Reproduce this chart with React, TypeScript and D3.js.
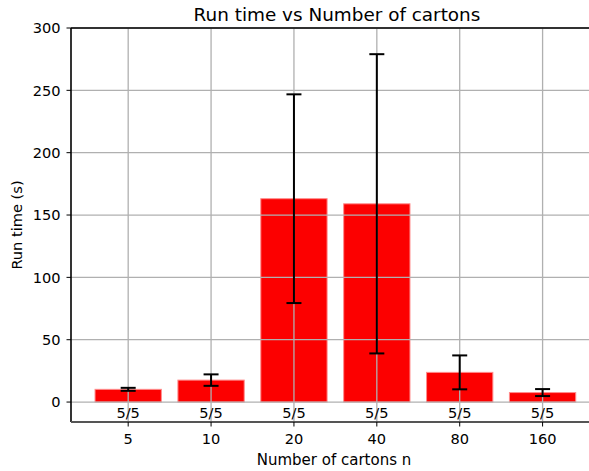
import React from "react";
import * as d3 from "d3";

const categories = ["5", "10", "20", "40", "80", "160"];
const runTimes = [10.2, 17.6, 163.1, 159.0, 23.8, 7.6];
const errors = [1.2, 4.6, 83.7, 120.0, 13.6, 2.8];
const successLabels = ["5/5", "5/5", "5/5", "5/5", "5/5", "5/5"];
const yTicks = [0, 50, 100, 150, 200, 250, 300];

const W = 589;
const H = 471;
const left = 71;
const right = 589;
const top = 28;
const bottom = 422;
const FONT = "DejaVu Sans, sans-serif";
const FS = 14.6;

export default function App() {
  const y = d3.scaleLinear().domain([-16, 300]).range([bottom, top]);
  const x = d3.scaleLinear().domain([-0.69, 5.56]).range([left, right]);
  const barW = x(0.8) - x(0);
  const grid = "#b0b0b0";

  return (
    <svg width={W} height={H} style={{ position: "absolute", left: 0, top: 0 }}>
      <rect x={0} y={0} width={W} height={H} fill="#fff" />
      {/* bars */}
      {runTimes.map((v, i) => (
        <rect
          key={"b" + i}
          x={x(i) - barW / 2}
          y={y(v)}
          width={barW}
          height={y(0) - y(v)}
          fill="#fc0000"
          stroke="#ff8c8c"
          strokeWidth={1}
        />
      ))}
      {/* grid */}
      {yTicks.map((t) => (
        <line key={"gy" + t} x1={left} x2={W} y1={y(t)} y2={y(t)} stroke={grid} strokeWidth={1.3} />
      ))}
      {categories.map((c, i) => (
        <line key={"gx" + c} x1={x(i)} x2={x(i)} y1={top} y2={bottom} stroke={grid} strokeWidth={1.3} />
      ))}
      {/* error bars */}
      {runTimes.map((v, i) => {
        const lo = y(v - errors[i]);
        const hi = y(v + errors[i]);
        const cx = x(i);
        return (
          <g key={"e" + i} stroke="#000" strokeWidth={2}>
            <line x1={cx} x2={cx} y1={lo} y2={hi} />
            <line x1={cx - 7.5} x2={cx + 7.5} y1={lo} y2={lo} />
            <line x1={cx - 7.5} x2={cx + 7.5} y1={hi} y2={hi} />
          </g>
        );
      })}
      {/* success labels */}
      {successLabels.map((s, i) => (
        <text key={"s" + i} x={x(i)} y={418} textAnchor="middle" fontFamily={FONT} fontSize={FS} fill="#000">
          {s}
        </text>
      ))}
      {/* spines */}
      <line x1={left} x2={W} y1={top} y2={top} stroke="#000" strokeWidth={1.6} />
      <line x1={left} x2={left} y1={top} y2={bottom} stroke="#000" strokeWidth={1.6} />
      <line x1={left} x2={W} y1={bottom} y2={bottom} stroke="#555" strokeWidth={1.8} />
      {/* y ticks */}
      {yTicks.map((t) => (
        <g key={"yt" + t}>
          <line x1={left - 4.5} x2={left} y1={y(t)} y2={y(t)} stroke="#000" strokeWidth={1} />
          <text x={left - 10.5} y={y(t)} dy="0.36em" textAnchor="end" fontFamily={FONT} fontSize={FS} fill="#000">
            {t}
          </text>
        </g>
      ))}
      {/* x ticks */}
      {categories.map((c, i) => (
        <g key={"xt" + c}>
          <line x1={x(i)} x2={x(i)} y1={bottom} y2={bottom + 4.5} stroke="#000" strokeWidth={1} />
          <text x={x(i)} y={443.5} textAnchor="middle" fontFamily={FONT} fontSize={FS} fill="#000">
            {c}
          </text>
        </g>
      ))}
      <text x={334} y={465} textAnchor="middle" fontFamily={FONT} fontSize={15} fill="#000">
        Number of cartons n
      </text>
      <text
        transform={`translate(22, ${(top + bottom) / 2}) rotate(-90)`}
        textAnchor="middle"
        fontFamily={FONT}
        fontSize={FS}
        fill="#000"
      >
        Run time (s)
      </text>
      <text x={337} y={21} textAnchor="middle" fontFamily={FONT} fontSize={18.4} fill="#000">
        Run time vs Number of cartons
      </text>
    </svg>
  );
}
